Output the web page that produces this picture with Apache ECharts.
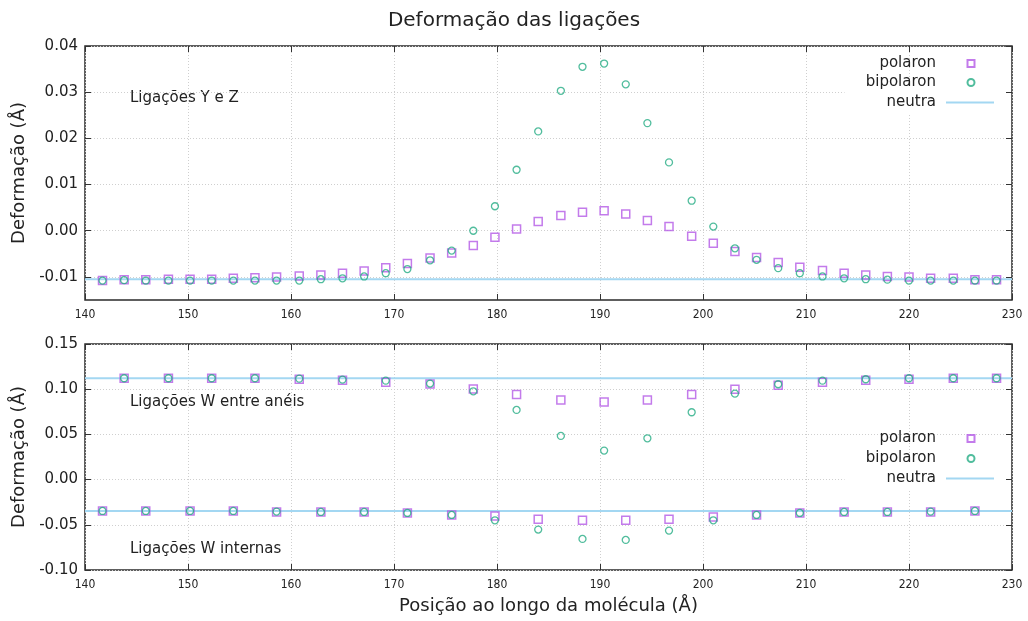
<!DOCTYPE html>
<html>
<head>
<meta charset="utf-8">
<script src="https://cdn.jsdelivr.net/npm/echarts@6/dist/echarts.min.js"></script>
<style>
  html, body { margin: 0; padding: 0; background: #fff; }
  #chart { width: 1028px; height: 621px; }
</style>
</head>
<body>
<div id="chart"></div>
<script>
// posições ao longo da molécula (Å)
const posicao = [141.7, 143.8, 145.9, 148.1, 150.2, 152.3, 154.4, 156.5, 158.6, 160.8,
  162.9, 165.0, 167.1, 169.2, 171.3, 173.5, 175.6, 177.7, 179.8, 181.9,
  184.0, 186.2, 188.3, 190.4, 192.5, 194.6, 196.7, 198.9, 201.0, 203.1,
  205.2, 207.3, 209.4, 211.6, 213.7, 215.8, 217.9, 220.0, 222.1, 224.3,
  226.4, 228.5];

// ligações Y e Z
const polaronYZ = [-0.0108, -0.0106, -0.0106, -0.0105, -0.0105, -0.0105, -0.0103, -0.0102, -0.0100, -0.0098,
  -0.0096, -0.0092, -0.0087, -0.0080, -0.0071, -0.0059, -0.0048, -0.0032, -0.0014, 0.0004,
  0.0020, 0.0033, 0.0040, 0.0043, 0.0036, 0.0022, 0.0009, -0.0012, -0.0027, -0.0045,
  -0.0058, -0.0069, -0.0079, -0.0086, -0.0092, -0.0096, -0.0099, -0.0100, -0.0103, -0.0103,
  -0.0106, -0.0106];
const bipolaronYZ = [-0.0108, -0.0107, -0.0108, -0.0108, -0.0108, -0.0108, -0.0108, -0.0108, -0.0108, -0.0108,
  -0.0105, -0.0103, -0.0099, -0.0092, -0.0083, -0.0064, -0.0043, 0.0000, 0.0053, 0.0132,
  0.0215, 0.0303, 0.0355, 0.0362, 0.0317, 0.0233, 0.0148, 0.0065, 0.0009, -0.0038,
  -0.0063, -0.0081, -0.0092, -0.0099, -0.0103, -0.0105, -0.0106, -0.0108, -0.0108, -0.0108,
  -0.0108, -0.0108];
const neutraYZ = -0.0105;

// ligações W entre anéis
const posEntre = [143.8, 148.1, 152.3, 156.5, 160.8, 165.0, 169.2, 173.5, 177.7, 181.9,
  186.2, 190.4, 194.6, 198.9, 203.1, 207.3, 211.6, 215.8, 220.0, 224.3, 228.5];
const polaronEntre = [0.1121, 0.1121, 0.1120, 0.1120, 0.1110, 0.1099, 0.1077, 0.1058, 0.1003, 0.0940,
  0.0881, 0.0859, 0.0881, 0.0940, 0.0999, 0.1044, 0.1077, 0.1099, 0.1110, 0.1121, 0.1121];
const bipolaronEntre = [0.1121, 0.1121, 0.1121, 0.1121, 0.1117, 0.1106, 0.1095, 0.1062, 0.0977, 0.0771,
  0.0483, 0.0321, 0.0457, 0.0745, 0.0951, 0.1055, 0.1095, 0.1110, 0.1121, 0.1121, 0.1121];
const neutraEntre = 0.1121;

// ligações W internas
const posInternas = [141.7, 145.9, 150.2, 154.4, 158.6, 162.9, 167.1, 171.3, 175.6, 179.8,
  184.0, 188.3, 192.5, 196.7, 201.0, 205.2, 209.4, 213.7, 217.9, 222.1, 226.4];
const polaronInternas = [-0.0347, -0.0347, -0.0347, -0.0347, -0.0358, -0.0358, -0.0358, -0.0369, -0.0391, -0.0402,
  -0.0439, -0.0450, -0.0450, -0.0439, -0.0413, -0.0391, -0.0369, -0.0358, -0.0358, -0.0358, -0.0347];
const bipolaronInternas = [-0.0347, -0.0347, -0.0347, -0.0347, -0.0354, -0.0358, -0.0358, -0.0369, -0.0391, -0.0450,
  -0.0553, -0.0656, -0.0667, -0.0564, -0.0450, -0.0391, -0.0369, -0.0358, -0.0358, -0.0354, -0.0347];
const neutraInternas = -0.0347;

const xRange = [140, 230];
const yTicksTop = [-0.01, 0.00, 0.01, 0.02, 0.03, 0.04];

const FONT = 'DejaVu Sans';
const corPolaron = '#b45ae6';
const corBipolaron = '#25ad85';
const corNeutra = '#a3d7f2';

const zip = (xs, ys) => xs.map((x, i) => [x, ys[i]]);
const linha = (v) => [[xRange[0], v], [xRange[1], v]];

const gridLine = { show: true, lineStyle: { color: '#cfcfcf', type: [1, 2], width: 1 } };
const tick = { show: true, inside: true, length: 6, lineStyle: { color: '#333' } };

// eixo x (com ou sem rótulos)
const eixoX = (grid, bottom) => ({
  type: 'value', gridIndex: grid, min: xRange[0], max: xRange[1], interval: 10,
  position: bottom ? 'bottom' : 'top',
  axisLine: { show: false, onZero: false },
  axisTick: tick,
  axisLabel: { show: bottom, fontFamily: 'DejaVu Sans Condensed', fontSize: 12, color: '#222', margin: 9 },
  splitLine: bottom ? gridLine : { show: false }
});

// legendas no estilo gnuplot: texto à direita alinhado, símbolo depois
const legText = (pad) => ({ fontFamily: FONT, fontSize: 15, color: '#222', padding: [0, pad, 0, 0] });
const legendasPainel = (yPol, yBip, yNeu) => [
  { data: ['neutra'], align: 'right', right: 23, top: yNeu - 6 - 8, itemWidth: 48, itemHeight: 14,
    padding: [8, 10, 3, 42], backgroundColor: '#fff', z: 3, textStyle: legText(5) },
  { data: ['polaron'], align: 'right', right: 52.5, top: yPol - 6, itemWidth: 7, itemHeight: 7,
    padding: 0, z: 5, textStyle: legText(26.5) },
  { data: ['bipolaron'], align: 'right', right: 52.5, top: yBip - 6, itemWidth: 7, itemHeight: 7,
    padding: 0, z: 5, textStyle: legText(26.5) }
];

const main = echarts.init(document.getElementById('chart'));
main.setOption({
  backgroundColor: '#fff',
  animation: false,
  title: {
    text: 'Deformação das ligações', left: 'center', top: 6,
    textStyle: { fontFamily: FONT, fontSize: 20, fontWeight: 'normal', color: '#222' }
  },
  grid: [
    { left: 85, right: 16, top: 46, height: 254, show: true, borderColor: '#2a2a2a', borderWidth: 1.5 },
    { left: 85, right: 16, top: 344, height: 226, show: true, borderColor: '#2a2a2a', borderWidth: 1.5 }
  ],
  xAxis: [
    eixoX(0, true), eixoX(0, false),
    Object.assign(eixoX(1, true), {
      name: 'Posição ao longo da molécula (Å)', nameLocation: 'middle', nameGap: 27,
      nameTextStyle: { fontFamily: FONT, fontSize: 18, color: '#222' }
    }),
    eixoX(1, false)
  ],
  yAxis: [
    {
      type: 'value', gridIndex: 0, min: -0.015, max: 0.04,
      name: 'Deformação (Å)', nameLocation: 'middle', nameGap: 53,
      nameTextStyle: { fontFamily: FONT, fontSize: 18, color: '#222' },
      axisLine: { show: false, onZero: false },
      axisTick: Object.assign({ customValues: yTicksTop }, tick),
      axisLabel: { fontFamily: FONT, fontSize: 15, color: '#222', margin: 7, customValues: yTicksTop,
        formatter: (v) => v.toFixed(2) },
      splitLine: Object.assign({ customValues: yTicksTop }, gridLine)
    },
    {
      type: 'value', gridIndex: 0, min: -0.015, max: 0.04, position: 'right',
      axisLine: { show: false, onZero: false },
      axisTick: Object.assign({ customValues: yTicksTop }, tick),
      axisLabel: { show: false }, splitLine: { show: false }
    },
    {
      type: 'value', gridIndex: 1, min: -0.1, max: 0.15, interval: 0.05,
      name: 'Deformação (Å)', nameLocation: 'middle', nameGap: 53,
      nameTextStyle: { fontFamily: FONT, fontSize: 18, color: '#222' },
      axisLine: { show: false, onZero: false },
      axisTick: tick,
      axisLabel: { fontFamily: FONT, fontSize: 15, color: '#222', margin: 7,
        formatter: (v) => v.toFixed(2) },
      splitLine: gridLine
    },
    {
      type: 'value', gridIndex: 1, min: -0.1, max: 0.15, interval: 0.05, position: 'right',
      axisLine: { show: false, onZero: false },
      axisTick: tick,
      axisLabel: { show: false }, splitLine: { show: false }
    }
  ],
  legend: legendasPainel(62, 81, 101).concat(legendasPainel(437, 457, 477)),
  graphic: [
    { type: 'text', left: 130, top: 91, style: { text: 'Ligações Y e Z', font: '15px "DejaVu Sans"', fill: '#222' } },
    { type: 'text', left: 130, top: 395, style: { text: 'Ligações W entre anéis', font: '15px "DejaVu Sans"', fill: '#222' } },
    { type: 'text', left: 130, top: 542, style: { text: 'Ligações W internas', font: '15px "DejaVu Sans"', fill: '#222' } }
  ],
  series: [
    // painel superior
    { name: 'neutra', type: 'line', xAxisIndex: 0, yAxisIndex: 0, data: linha(neutraYZ), symbol: 'none',
      lineStyle: { color: corNeutra, width: 2 }, itemStyle: { color: 'rgba(0,0,0,0)', borderWidth: 0 }, z: 1 },
    { name: 'polaron', type: 'scatter', xAxisIndex: 0, yAxisIndex: 0, data: zip(posicao, polaronYZ),
      symbol: 'rect', symbolSize: 8, itemStyle: { color: 'rgba(0,0,0,0)', borderColor: corPolaron, borderWidth: 1.5 } },
    { name: 'bipolaron', type: 'scatter', xAxisIndex: 0, yAxisIndex: 0, data: zip(posicao, bipolaronYZ),
      symbol: 'circle', symbolSize: 7, itemStyle: { color: 'rgba(0,0,0,0)', borderColor: corBipolaron, borderWidth: 1.3 } },
    // painel inferior
    { name: 'neutra', type: 'line', xAxisIndex: 2, yAxisIndex: 2, data: linha(neutraEntre), symbol: 'none',
      lineStyle: { color: corNeutra, width: 2 }, itemStyle: { color: 'rgba(0,0,0,0)', borderWidth: 0 }, z: 1 },
    { name: 'neutra', type: 'line', xAxisIndex: 2, yAxisIndex: 2, data: linha(neutraInternas), symbol: 'none',
      lineStyle: { color: corNeutra, width: 2 }, itemStyle: { color: 'rgba(0,0,0,0)', borderWidth: 0 }, z: 1 },
    { name: 'polaron', type: 'scatter', xAxisIndex: 2, yAxisIndex: 2, data: zip(posEntre, polaronEntre),
      symbol: 'rect', symbolSize: 8, itemStyle: { color: 'rgba(0,0,0,0)', borderColor: corPolaron, borderWidth: 1.5 } },
    { name: 'polaron', type: 'scatter', xAxisIndex: 2, yAxisIndex: 2, data: zip(posInternas, polaronInternas),
      symbol: 'rect', symbolSize: 8, itemStyle: { color: 'rgba(0,0,0,0)', borderColor: corPolaron, borderWidth: 1.5 } },
    { name: 'bipolaron', type: 'scatter', xAxisIndex: 2, yAxisIndex: 2, data: zip(posEntre, bipolaronEntre),
      symbol: 'circle', symbolSize: 7, itemStyle: { color: 'rgba(0,0,0,0)', borderColor: corBipolaron, borderWidth: 1.3 } },
    { name: 'bipolaron', type: 'scatter', xAxisIndex: 2, yAxisIndex: 2, data: zip(posInternas, bipolaronInternas),
      symbol: 'circle', symbolSize: 7, itemStyle: { color: 'rgba(0,0,0,0)', borderColor: corBipolaron, borderWidth: 1.3 } }
  ]
});
</script>
</body>
</html>
